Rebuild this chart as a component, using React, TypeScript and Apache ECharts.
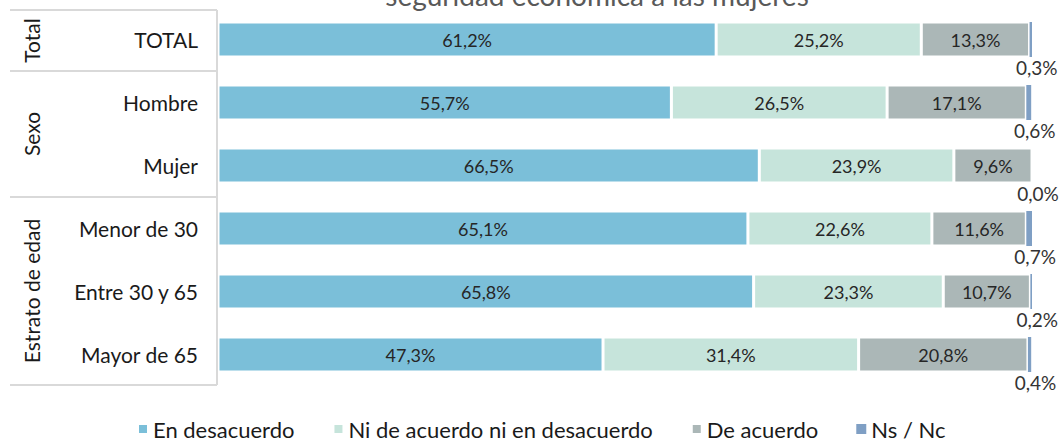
import React, { useEffect, useRef } from "react";
import * as echarts from "echarts";

const categories = ["TOTAL", "Hombre", "Mujer", "Menor de 30", "Entre 30 y 65", "Mayor de 65"];
const seriesNames = ["En desacuerdo", "Ni de acuerdo ni en desacuerdo", "De acuerdo", "Ns / Nc"];
const enDesacuerdo = [61.2, 55.7, 66.5, 65.1, 65.8, 47.3];
const niNi = [25.2, 26.5, 23.9, 22.6, 23.3, 31.4];
const deAcuerdo = [13.3, 17.1, 9.6, 11.6, 10.7, 20.8];
const nsNc = [0.3, 0.6, 0.0, 0.7, 0.2, 0.4];
const groups = [
  { name: "Total", from: 0, to: 1 },
  { name: "Sexo", from: 1, to: 3 },
  { name: "Estrato de edad", from: 3, to: 6 },
];
const colors = ["#7bbfd9", "#c6e4db", "#abb7b7", "#7f9fc4"];
const titleText = "seguridad económica a las mujeres";

const FONT = "Lato";

export default function App() {
  const ref = useRef<HTMLDivElement>(null);
  useEffect(() => {
    const chart = echarts.init(ref.current!, null, { renderer: "svg" });
    const gridTop = 8;
    const gridHeight = 378;
    const gridLeft = 218;
    const band = gridHeight / categories.length;
    const fmt = (p: any) => p.value.toFixed(1).replace(".", ",") + "%";
    const data = [enDesacuerdo, niNi, deAcuerdo, nsNc];
    const series = data.map((d, i) => ({
      name: seriesNames[i],
      type: "bar",
      stack: "total",
      data: d,
      barWidth: 35,
      itemStyle: { color: colors[i], borderColor: "#ffffff", borderWidth: i === 3 ? 0 : 1.5 },
      label: i === 3
        ? { show: true, position: "bottom", distance: 1, offset: [6, 0], formatter: fmt, color: "#333333", fontSize: 19, fontFamily: FONT }
        : { show: true, position: "inside", formatter: fmt, color: "#262626", fontSize: 18, fontFamily: FONT },
    }));
    const lineStyle = { stroke: "#d9d9d9", lineWidth: 2 };
    const graphics: any[] = [];
    const tableLeft = 10;
    const tableTop = 10;
    const tableBottom = 385;
    graphics.push({ type: "line", shape: { x1: gridLeft - 1, y1: tableTop, x2: gridLeft - 1, y2: tableBottom }, style: lineStyle });
    const bounds = [tableTop, gridTop + band * 1, gridTop + band * 3, tableBottom];
    bounds.forEach((y) => {
      graphics.push({ type: "line", shape: { x1: tableLeft, y1: y, x2: gridLeft - 1, y2: y }, style: lineStyle });
    });
    groups.forEach((g, gi) => {
      const y0 = bounds[gi];
      const y1 = bounds[gi + 1];
      graphics.push({
        type: "text",
        x: 31,
        y: (y0 + y1) / 2,
        rotation: Math.PI / 2,
        style: { text: g.name, fontSize: 21, fontFamily: FONT, fill: "#1a1a1a", align: "center", verticalAlign: "middle" },
      });
    });
    graphics.push({
      type: "text",
      x: 597,
      y: 9,
      style: { text: titleText, fontSize: 28, fontFamily: FONT, fill: "#595959", align: "center", verticalAlign: "bottom" },
    });
    chart.setOption({
      animation: false,
      color: colors,
      grid: { left: gridLeft, right: 30, top: gridTop, height: gridHeight, containLabel: false },
      xAxis: { type: "value", min: 0, max: 100, show: false },
      yAxis: {
        type: "category",
        data: categories,
        inverse: true,
        axisLine: { show: false },
        axisTick: { show: false },
        axisLabel: { color: "#1a1a1a", fontSize: 21, fontFamily: FONT, margin: 20 },
      },
      legend: {
        bottom: 0,
        left: 132,
        itemWidth: 10,
        itemHeight: 10,
        itemGap: 38,
        icon: "rect",
        textStyle: { color: "#1a1a1a", fontSize: 22, fontFamily: FONT },
        data: seriesNames,
      },
      series,
      graphic: graphics,
    });
    return () => chart.dispose();
  }, []);
  return <div ref={ref} style={{ width: 1062, height: 445, position: "absolute", left: 0, top: 0 }} />;
}
